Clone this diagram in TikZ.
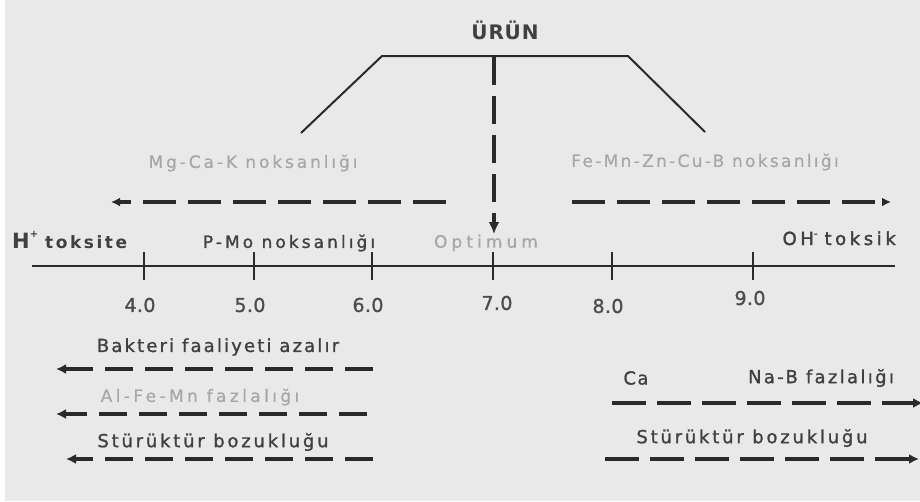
\documentclass[tikz,border=0pt]{standalone}
\usepackage{fontspec}
\setmainfont{DejaVu Sans}
\usetikzlibrary{arrows.meta}
\definecolor{bg}{HTML}{E9E9E9}
\definecolor{ink}{HTML}{2A2A2A}
\definecolor{txtdark}{HTML}{404040}
\definecolor{txtlight}{HTML}{A6A6A6}
\tikzset{
  lbl/.style 2 args={inner sep=0pt, text=txtdark, font=\fontsize{#1}{#1}\selectfont\addfontfeatures{LetterSpace=#2,FakeBold=1.2}},
  lbllight/.style 2 args={inner sep=0pt, text=txtlight, font=\fontsize{#1}{#1}\selectfont\addfontfeatures{LetterSpace=#2,FakeBold=0.4}},
  tick/.style={draw=ink, line width=2.2pt},
  axisline/.style={draw=ink, line width=2.7pt},
  curve/.style={draw=ink, line width=2pt},
  topdash/.style={draw=ink, line width=3.4pt, dash pattern=on 33pt off 12pt, -{Latex[length=9pt,width=9pt]}},
  botdash/.style={draw=ink, line width=4.2pt, dash pattern=on 28pt off 12pt, -{Latex[length=10pt,width=10pt]}},
  rdash/.style={draw=ink, line width=4.2pt, dash pattern=on 34pt off 11pt, -{Latex[length=10pt,width=10pt]}},
  vdash/.style={draw=ink, line width=4pt, dash pattern=on 28pt off 11pt, -{Latex[length=12pt,width=11pt]}},
}
\begin{document}
\begin{tikzpicture}[x=1pt,y=-1pt]
\fill[bg] (0,0) rectangle (920,501);
\fill[white] (0,0) rectangle (5,501);
\useasboundingbox (0,0) rectangle (920,501);

% title and trapezoid
\node[inner sep=0pt, text=txtdark, font=\bfseries\fontsize{20}{20}\selectfont\addfontfeatures{LetterSpace=4}] (urun) at (505,30) {ÜRÜN};
\coordinate (tl0) at (301,133);
\coordinate (tl1) at (382,56);
\coordinate (tr1) at (628,56);
\coordinate (tr0) at (705,132);
\draw[curve] (tl0) -- (tl1) -- (tr1) -- (tr0);
\coordinate (vtop) at (494,57);
\coordinate (vbot) at (494,234);
\draw[vdash] (vtop) -- (vbot);

% deficiency labels and arrows
\node[lbllight={17}{17}] (mgca) at (253,163) {Mg-Ca-K noksanlığı};
\node[lbllight={17}{13.5}] (femn) at (705,162) {Fe-Mn-Zn-Cu-B noksanlığı};
\coordinate (la0) at (446,202);
\coordinate (la1) at (111,202);
\draw[topdash] (la0) -- (la1);
\coordinate (ra0) at (572,202);
\coordinate (ra1) at (891,202);
\draw[topdash] (ra0) -- (ra1);

% axis
\coordinate (ax0) at (32,266);
\coordinate (ax1) at (895,266);
\draw[axisline] (ax0) -- (ax1);
\foreach \x/\lx/\v/\ly in {144/140/4.0/305, 254/250/5.0/305, 372/368/6.0/305, 493/497/7.0/303, 612/608/8.0/306, 753/750/9.0/298}{
  \draw[tick] (\x,252) -- (\x,280);
  \node[lbl={19}{2}, text=black!70] (t\v) at (\lx,\ly) {\v};
}

% labels above axis
\node[inner sep=0pt, text=txtdark, anchor=base west] (hplus) at (12,248)
  {\bfseries\fontsize{21}{21}\selectfont H\raisebox{0.5em}{\fontsize{10}{10}\selectfont +}\hspace{7pt}\fontsize{17}{17}\selectfont\addfontfeatures{LetterSpace=15}toksite};
\node[lbl={17}{18}] (pmo) at (289,243) {P-Mo noksanlığı};
\node[lbllight={17}{24}] (opt) at (486,243) {Optimum};
\node[inner sep=0pt, text=txtdark, anchor=base east] (oh) at (896,245)
  {\fontsize{18}{18}\selectfont\addfontfeatures{LetterSpace=20,FakeBold=1.8}OH\raisebox{0.45em}{\fontsize{10}{10}\selectfont -}\hspace{7pt}toksik};

% lower left
\node[lbl={18}{12}] (bakt) at (218,347) {Bakteri faaliyeti azalır};
\coordinate (b0) at (373,369);
\coordinate (b1) at (56,369);
\draw[botdash] (b0) -- (b1);
\node[lbllight={17}{20}] (alfe) at (200,397) {Al-Fe-Mn fazlalığı};
\coordinate (a0) at (367,414);
\coordinate (a1) at (56,414);
\draw[botdash, line width=3.6pt] (a0) -- (a1);
\node[lbl={18}{15.5}] (stl) at (213,442) {Stürüktür bozukluğu};
\coordinate (s0) at (373,459);
\coordinate (s1) at (66,459);
\draw[botdash] (s0) -- (s1);

% lower right
\node[lbl={18}{8}] (ca) at (636,378) {Ca};
\node[lbl={18}{13}] (nab) at (821,378) {Na-B fazlalığı};
\coordinate (c0) at (612,403);
\coordinate (c1) at (923,403);
\draw[rdash] (c0) -- (c1);
\node[lbl={18}{15.5}] (str) at (752,438) {Stürüktür bozukluğu};
\coordinate (d0) at (605,459);
\coordinate (d1) at (919,459);
\draw[rdash] (d0) -- (d1);
\end{tikzpicture}
\end{document}
